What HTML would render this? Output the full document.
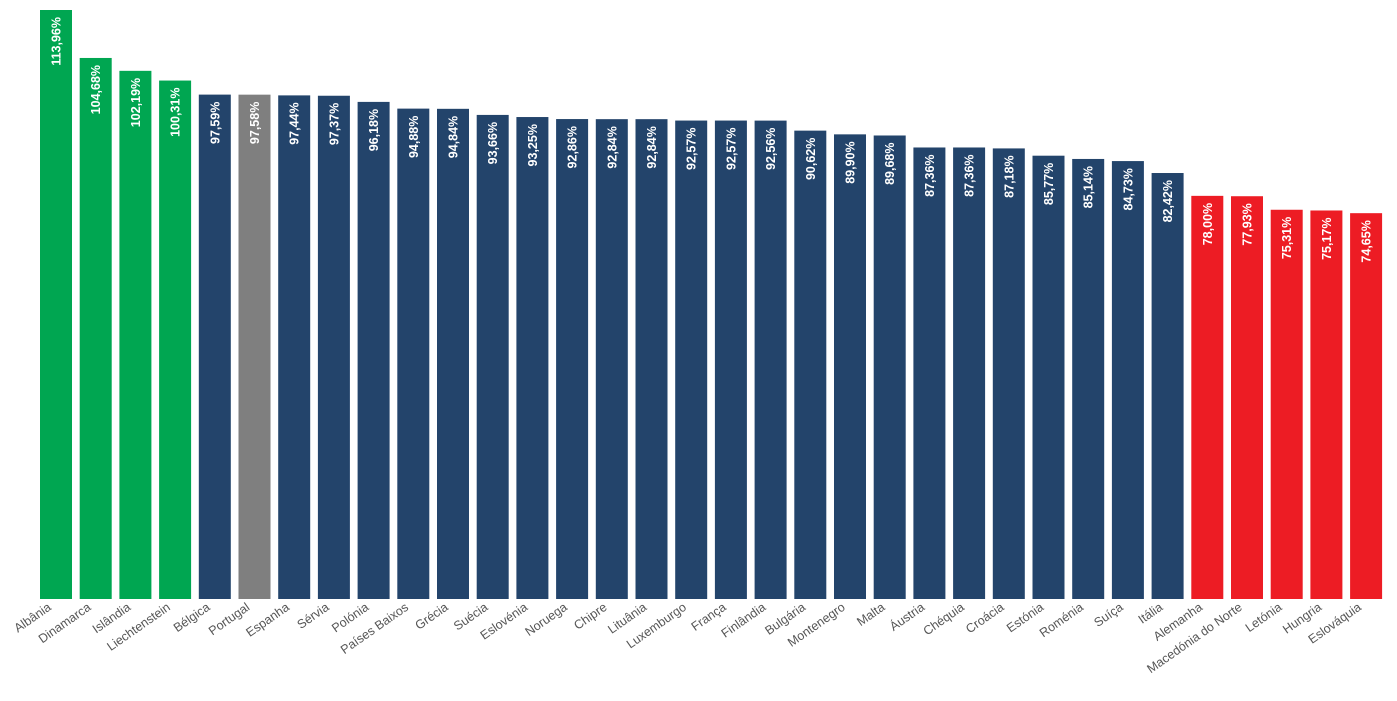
<!DOCTYPE html>
<html><head><meta charset="utf-8"><style>
html,body{margin:0;padding:0;background:#fff;}
svg{display:block;font-family:"Liberation Sans","DejaVu Sans",sans-serif;}
</style></head><body>
<svg id="chart" width="1397" height="701" viewBox="0 0 1397 701"></svg>
<script>
const categories=["Albânia","Dinamarca","Islândia","Liechtenstein","Bélgica","Portugal","Espanha","Sérvia","Polónia","Países Baixos","Grécia","Suécia","Eslovénia","Noruega","Chipre","Lituânia","Luxemburgo","França","Finlândia","Bulgária","Montenegro","Malta","Áustria","Chéquia","Croácia","Estónia","Roménia","Suíça","Itália","Alemanha","Macedónia do Norte","Letónia","Hungria","Eslováquia"];
const values=[113.96,104.68,102.19,100.31,97.59,97.58,97.44,97.37,96.18,94.88,94.84,93.66,93.25,92.86,92.84,92.84,92.57,92.57,92.56,90.62,89.90,89.68,87.36,87.36,87.18,85.77,85.14,84.73,82.42,78.00,77.93,75.31,75.17,74.65];
const groups=["top","top","top","top","mid","pt","mid","mid","mid","mid","mid","mid","mid","mid","mid","mid","mid","mid","mid","mid","mid","mid","mid","mid","mid","mid","mid","mid","mid","low","low","low","low","low"];
const colors={top:"#00A651",mid:"#23446B",pt:"#7F7F7F",low:"#ED1C24"};
const svg=document.getElementById('chart');
const NS="http://www.w3.org/2000/svg";
const x0=40,pitch=39.7,bw=32,base=599,pxPer=589/113.96;
const x=i=>x0+i*pitch;
const y=v=>base-v*pxPer;
categories.forEach((c,i)=>{
  const r=document.createElementNS(NS,'rect');
  
  
  r.setAttribute('x',x(i));r.setAttribute('y',y(values[i]));
  r.setAttribute('width',bw);r.setAttribute('height',base-y(values[i]));
  r.setAttribute('fill',colors[groups[i]]);
  svg.appendChild(r);
  const cx=x(i)+bw/2;
  const t=document.createElementNS(NS,'text');
  
  
  const ty=y(values[i])+7;
  t.setAttribute('transform','translate('+(cx+4.5)+','+ty+') rotate(-90)');
  t.setAttribute('text-anchor','end');
  t.setAttribute('fill','#fff');t.setAttribute('font-size','12.5');t.setAttribute('font-weight','bold');
  t.textContent=values[i].toFixed(2).replace('.',',')+'%';
  svg.appendChild(t);
  const l=document.createElementNS(NS,'text');
  
  
  l.setAttribute('transform','translate('+(cx-4)+',609) rotate(-35)');
  l.setAttribute('text-anchor','end');
  l.setAttribute('fill','#555');l.setAttribute('font-size','12.5');
  l.textContent=c;
  svg.appendChild(l);
});
</script>
</body></html>
